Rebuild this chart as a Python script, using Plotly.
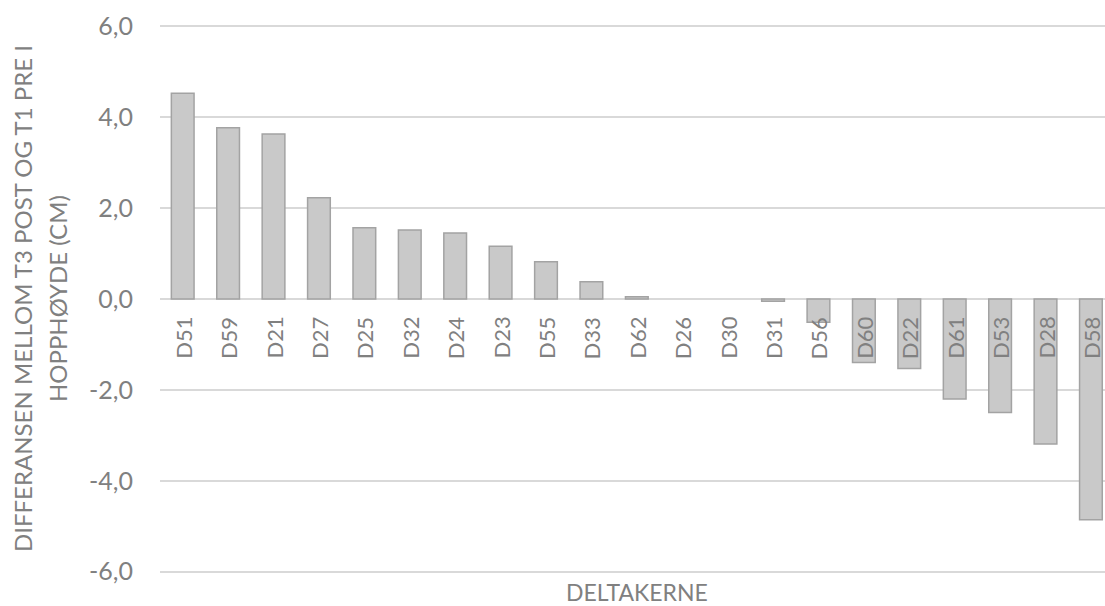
import plotly.graph_objects as go

# Participants sorted by change in jump height (T3 post minus T1 pre), in cm
participants = ["D51", "D59", "D21", "D27", "D25", "D32", "D24", "D23", "D55", "D33",
                "D62", "D26", "D30", "D31", "D56", "D60", "D22", "D61", "D53", "D28", "D58"]
differences = [4.53, 3.77, 3.63, 2.23, 1.57, 1.52, 1.45, 1.16, 0.82, 0.38,
               0.05, 0.0, 0.0, -0.05, -0.51, -1.40, -1.53, -2.20, -2.50, -3.19, -4.86]

y_ticks = [-6, -4, -2, 0, 2, 4, 6]
y_tick_labels = ["-6,0", "-4,0", "-2,0", "0,0", "2,0", "4,0", "6,0"]

y_title_lines = ["DIFFERANSEN MELLOM T3 POST OG T1 PRE I", "HOPPHØYDE (CM)"]
x_title = "DELTAKERNE"

FONT = "Lato"
TEXT_GREY = "#808080"
GRID_GREY = "#d9d9d9"

# Zero-height bars get no outline so they stay invisible
outline_widths = [0 if v == 0 else 1.5 for v in differences]

fig = go.Figure()
fig.add_trace(go.Bar(
    x=participants,
    y=differences,
    width=0.5,
    marker=dict(color="#c9c9c9", line=dict(color="#a3a3a3", width=outline_widths)),
    hoverinfo="x+y",
))

annotations = []
# Category labels sit just below the zero line, rotated
for name in participants:
    annotations.append(dict(
        x=name, y=0, xref="x", yref="y",
        text=name, textangle=-90, showarrow=False,
        xanchor="center", yanchor="top", yshift=-16,
        font=dict(family=FONT, size=22, color=TEXT_GREY),
    ))

# Two-line vertical axis title
for line, shift in zip(y_title_lines, [-138, -103]):
    annotations.append(dict(
        x=0, y=0.5, xref="paper", yref="paper",
        text=line, textangle=-90, showarrow=False,
        xanchor="center", yanchor="middle", xshift=shift,
        font=dict(family=FONT, size=24, color=TEXT_GREY),
    ))

annotations.append(dict(
    x=0.5, y=0, xref="paper", yref="paper",
    text=x_title, showarrow=False,
    xanchor="center", yanchor="bottom", yshift=-35, xshift=4,
    font=dict(family=FONT, size=23, color=TEXT_GREY),
))

fig.update_layout(
    width=1105, height=606,
    margin=dict(l=160, r=0, t=25, b=33),
    paper_bgcolor="white", plot_bgcolor="white",
    showlegend=False,
    annotations=annotations,
    xaxis=dict(
        type="category",
        range=[-0.5, 20.31],
        showticklabels=False, showgrid=False, zeroline=False, showline=False,
        fixedrange=True,
    ),
    yaxis=dict(
        range=[-6.03, 6.03],
        tickvals=y_ticks, ticktext=y_tick_labels,
        tickfont=dict(family=FONT, size=25, color=TEXT_GREY),
        showgrid=True, gridcolor=GRID_GREY, gridwidth=1.5,
        zeroline=True, zerolinecolor=GRID_GREY, zerolinewidth=1.5,
        showline=False, ticks="", ticklabelstandoff=26,
        fixedrange=True,
    ),
)

fig.write_html("out.html")
